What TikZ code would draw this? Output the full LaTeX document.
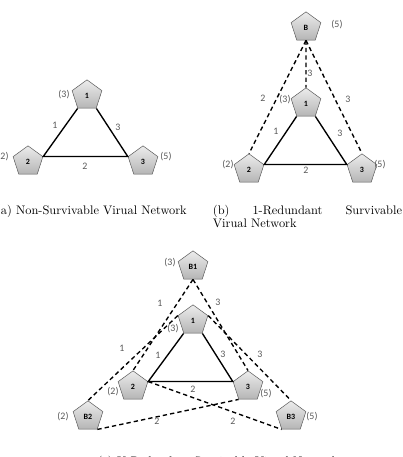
\documentclass[tikz,border=0pt]{standalone}
\usepackage{fontspec}
\newfontfamily\labfont{Carlito}
\usetikzlibrary{shapes.geometric}

\begin{document}
\begin{tikzpicture}[
    x=0.0284cm, y=-0.0284cm,
    vn/.style={regular polygon, regular polygon sides=5, minimum size=0.89cm, inner sep=0pt,
      draw=black!65, top color=gray!15, bottom color=gray!58,
      font=\labfont\bfseries\fontsize{6.5}{7}\selectfont},
    wt/.style={text=black!65, font=\labfont\fontsize{8}{9}\selectfont, inner sep=0pt},
    pri/.style={line width=1.1pt},
    bak/.style={line width=1.1pt, dash pattern=on 3.5pt off 2.5pt},
    captext/.style={font=\fontsize{10}{10.7}\selectfont, inner sep=0pt}
  ]
    \useasboundingbox (0,0) rectangle (403,457);
    \clip (0,0) rectangle (403,457);

    \node[vn] (a1) at (87,95.5) {1};
    \node[vn] (a2) at (28,161.5) {2};
    \node[vn] (a3) at (143,161.5) {3};
    \draw[pri] (a1.corner 3) -- (a2.corner 5) -- (a3.corner 2) -- (a1.corner 4);
    \node[wt] (wa1) at (64,95) {(3)};
    \node[wt] (wa2) at (3,157) {(2)};
    \node[wt] (wa3) at (166,157) {(5)};
    \node[wt] (la12) at (55,125) {1};
    \node[wt] (la13) at (118,127) {3};
    \node[wt] (la23) at (85,166) {2};
    \node[captext, anchor=base east] (capa) at (187,214) {(a) Non-Survivable Virual Network};

    \node[vn] (bb) at (306,27.5) {B};
    \node[vn] (b1) at (306,103.5) {1};
    \node[vn] (b2) at (249,169.5) {2};
    \node[vn] (b3) at (362,169.5) {3};
    \draw[pri] (b1.corner 3) -- (b2.corner 5) -- (b3.corner 2) -- (b1.corner 4);
    \draw[bak] (bb.south) -- (b1.north);
    \draw[bak] (bb.south) -- (b2.north);
    \draw[bak] (bb.south) -- (b3.north);
    \node[wt] (wbb) at (337,25) {(5)};
    \node[wt] (wb1) at (285,100) {(3)};
    \node[wt] (wb2) at (228,165) {(2)};
    \node[wt] (wb3) at (380,165) {(5)};
    \node[wt] (lbb1) at (310,73) {3};
    \node[wt] (lbb2) at (263,98) {2};
    \node[wt] (lbb3) at (348,99) {3};
    \node[wt] (lb12) at (276,131) {1};
    \node[wt] (lb13) at (340,133) {3};
    \node[wt] (lb23) at (306,170) {2};
    \node[captext, anchor=base west, text width=5.37cm, align=justify] (capb) at (212.7,214)
      {(b) 1-Redundant Survivable\linebreak Virual Network};

    \node[vn] (cb1) at (193,266.5) {B1};
    \node[vn] (c1) at (193,320.5) {1};
    \node[vn] (c2) at (133,386.5) {2};
    \node[vn] (c3) at (248,386.5) {3};
    \node[vn] (cb2) at (88,416.5) {B2};
    \node[vn] (cb3) at (291,416.5) {B3};
    \draw[pri] (c1.corner 3) -- (c2.corner 5) -- (c3.corner 2) -- (c1.corner 4);
    \draw[bak] (cb1.south) -- (c2.north);
    \draw[bak] (cb1.south) -- (c3.north);
    \draw[bak] (c1.corner 2) -- (cb2.north);
    \draw[bak] (c1.corner 5) -- (cb3.north);
    \draw[bak] (cb2.corner 4) -- (c3.corner 3);
    \draw[bak] (c2.corner 5) -- (cb3.corner 3);
    \node[wt] (wcb1) at (170,263) {(3)};
    \node[wt] (wc1) at (173,329) {(3)};
    \node[wt] (wc2) at (113,392) {(2)};
    \node[wt] (wc3) at (266,394) {(5)};
    \node[wt] (wcb2) at (63,417) {(2)};
    \node[wt] (wcb3) at (312,417) {(5)};
    \node[wt] (lcb12) at (160,303) {1};
    \node[wt] (lcb13) at (218,302) {3};
    \node[wt] (lcb21) at (122,348) {1};
    \node[wt] (lc12) at (158,355) {1};
    \node[wt] (lc13) at (223,354) {3};
    \node[wt] (lcb31) at (260,354) {3};
    \node[wt] (lc23) at (193,389) {2};
    \node[wt] (lcb23) at (157,421) {2};
    \node[wt] (lcb32) at (233,421) {2};
    \node[captext, anchor=base] (capc) at (218,465) {(c) K-Redundant Survivable Virual Network};
\end{tikzpicture}
\end{document}
